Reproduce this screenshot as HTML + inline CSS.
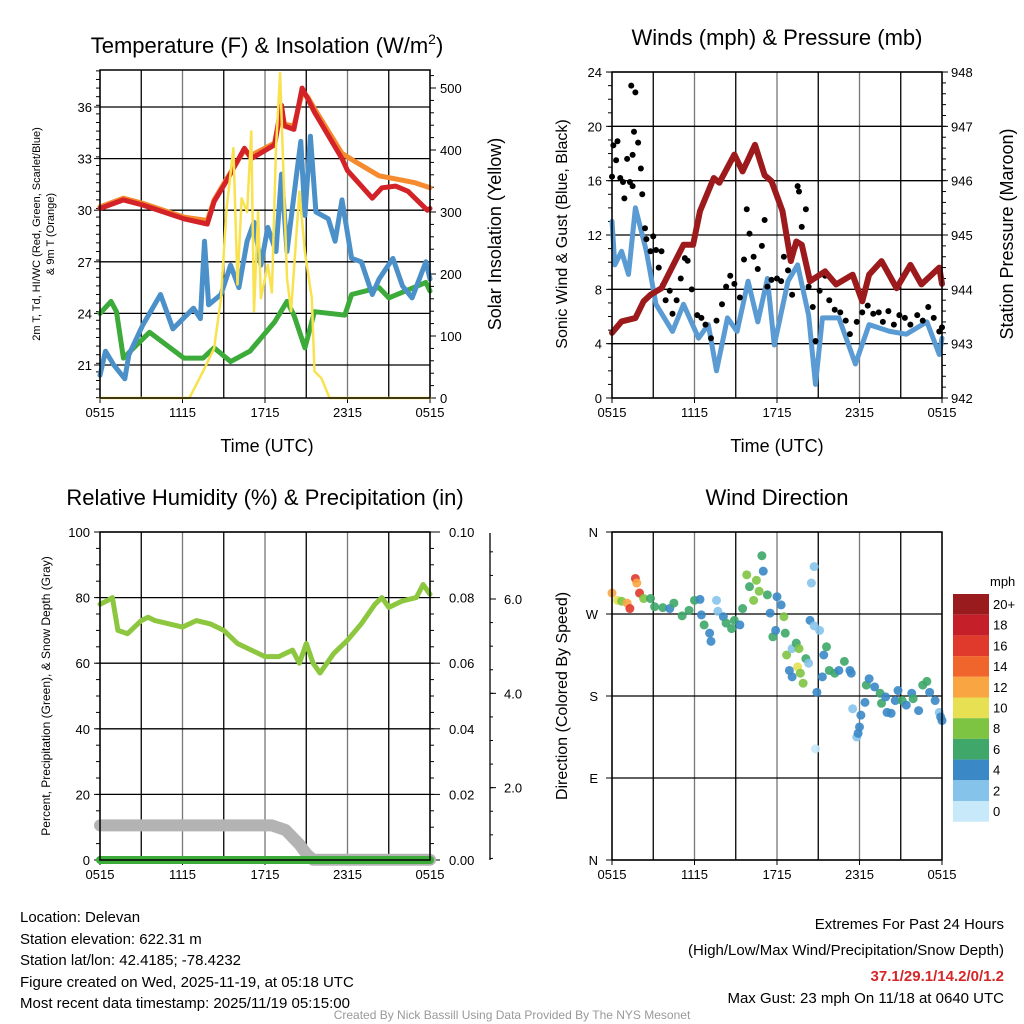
<!DOCTYPE html>
<html><head><meta charset="utf-8"><style>
body{margin:0;background:#fff}
svg{display:block;font-family:"Liberation Sans",Arial,sans-serif}
</style></head><body>
<svg id="s" width="1024" height="1024" viewBox="0 0 1024 1024">
<g id="g"></g>
<g font-size="15" fill="#000">
<text x="20" y="922">Location: Delevan</text>
<text x="20" y="944">Station elevation: 622.31 m</text>
<text x="20" y="965">Station lat/lon: 42.4185; -78.4232</text>
<text x="20" y="987">Figure created on Wed, 2025-11-19, at 05:18 UTC</text>
<text x="20" y="1008">Most recent data timestamp: 2025/11/19 05:15:00</text>
<text x="1004" y="929" text-anchor="end">Extremes For Past 24 Hours</text>
<text x="1004" y="955" text-anchor="end">(High/Low/Max Wind/Precipitation/Snow Depth)</text>
<text x="1004" y="981" text-anchor="end" fill="#d62728" font-weight="bold">37.1/29.1/14.2/0/1.2</text>
<text x="1004" y="1003" text-anchor="end">Max Gust: 23 mph On 11/18 at 0640 UTC</text>
<text x="512" y="1019" text-anchor="middle" font-size="12" fill="#999">Created By Nick Bassill Using Data Provided By The NYS Mesonet</text>
</g>
</svg>
<script>
const xTickLabels=["0515","1115","1715","2315","0515"];
const tempHours=[0,1.7,3.1,6.1,7.8,8.3,9.2,10.5,11,12.7,13.2,13.4,14.1,14.7,15.1,15.6,17.6,18,19.8,20.5,21.5,22.4,23.8,24];
const tempRed=[30.1,30.6,30.3,29.5,29.2,30.5,31.7,33.6,33,33.8,36.1,34.9,34.7,37.1,36.5,35.7,33,32.3,30.7,31.3,31.4,31.1,30,30.1];
const orangeHours=[0,1.7,3.1,6.1,7.8,8.3,9.2,10.5,11,12.7,13.2,13.4,14.1,14.7,15.1,15.6,17.6,18.6,20.3,21.6,22.9,24];
const tempOrange=[30.2,30.7,30.4,29.6,29.4,30.6,31.8,33.5,33.2,33.9,36,35,34.9,36.8,36.6,35.9,33.3,32.8,32,31.8,31.6,31.3];
const blueHours=[0,0.4,1,1.8,2.1,3.1,4.4,5.3,6.8,7.3,7.6,7.9,8.8,9.5,10.1,10.7,11.2,11.7,12.2,12.8,13.2,13.6,14.3,14.6,14.9,15.3,15.7,16.6,17.1,17.6,18.3,19,19.8,20.3,21.3,22,22.7,23.7,24];
const tempBlue=[20.4,21.8,21,20.2,21.6,23.3,25.1,23.1,24.3,23.7,28.2,24.5,25.1,26.8,25.5,28.2,29.3,26.8,29,27.6,32.1,27.6,32.1,34,29.7,34.3,29.9,29.5,28.2,30.6,27.2,27,25.1,26,27.2,25.6,24.9,27,26];
const greenHours=[0,0.8,1.2,1.7,3.6,6.1,7.5,8.3,9.5,10.9,12.7,13.6,14.1,14.9,15.6,17.8,18.3,20.3,21,23.7,24];
const tempGreen=[24,24.7,24.1,21.4,22.9,21.4,21.4,22,21.2,21.8,23.5,24.7,23.9,22,24.1,23.9,25.1,25.5,24.9,25.8,25.3];
const solarHours=[0,6.5,7.5,8.3,8.8,9.2,9.7,10,10.3,10.7,11,11.2,11.5,11.7,12.2,12.5,12.8,13.1,13.4,13.6,13.9,14.3,14.5,14.9,15.4,15.6,16.1,16.7,24];
const solar=[0,0,43,80,161,304,403,183,322,300,430,140,300,161,215,170,403,524,322,193,140,268,333,236,161,43,32,0,0];
const tempTicks=[21,24,27,30,33,36];
const solarTicks=[0,100,200,300,400,500];

const presHours=[0,0.7,1.7,2.3,2.8,3.6,5.2,5.9,6.4,7.4,7.8,8.9,9.5,10.4,11.1,11.6,12.4,13,13.4,13.8,14.4,15.5,16.3,17.5,18.2,18.7,19.6,20.7,21.7,22.5,23.8,24];
const pressure=[943.2,943.41,943.47,943.78,943.9,944.02,944.82,944.82,945.44,946.05,945.96,946.48,946.17,946.66,946.1,945.99,945.44,944.52,944.88,944.82,944.15,944.33,944.09,944.27,943.78,944.27,944.52,944.02,944.45,944.09,944.4,944.1];
const sonicHours=[0,0.2,0.7,1.2,1.7,2.5,3.2,4.4,5.2,6.3,7,7.6,8.4,9.1,9.9,10.6,11.3,11.8,12.8,13.5,14.3,14.8,15.3,16.5,17.7,18.7,20.2,21.4,22.9,23.8,24];
const sonic=[13,9.8,10.8,9.1,14,10.8,6.9,4.9,6.9,4.4,5.4,2,5.9,4.9,8.6,5.6,8.8,3.9,8.6,9.8,6.1,1,5.9,5.9,2.5,5.4,4.9,4.7,5.6,3.2,4.4];
const gustHours=[0,0.1,0.3,0.4,0.6,0.8,0.9,1.1,1.3,1.5,1.6,1.4,1.7,1.5,1.9,2.1,2.2,2.4,2.5,2.8,3,3.2,3.4,3.6,3.7,3.9,4.2,4.4,4.7,5,5.3,5.5,5.8,6.2,6.5,6.8,7.2,7.6,8,8.3,8.6,8.9,9.3,9.6,9.8,10,10.3,10.6,10.9,11.1,11.3,11.6,12,12.3,12.5,12.8,13.1,13.3,13.5,13.6,13.8,14.1,14.3,14.6,14.8,15.1,15.5,15.8,16.2,16.6,17,17.3,17.8,18.2,18.6,19,19.4,19.7,20.1,20.5,20.9,21.3,21.7,22.2,22.6,23,23.4,23.8,24];
const gust=[16.3,18.6,17.5,18.9,16.2,15.9,14.7,17.6,15.9,15.6,19.6,23,22.5,17.9,18.8,16.9,15,12.5,11.7,10.8,11.9,10.9,9.6,10.8,8.3,7.2,7.9,6.2,7.2,8.8,10.3,10.1,8,6.1,5.9,5.4,4.4,5.7,6.9,8.2,9,8.4,7.4,10.2,13.9,12.1,10.4,9.5,11.2,13.1,8.2,8.7,8.8,8.6,10.4,9.4,7.6,11.1,15.6,15.2,12.6,13.9,8.2,6.7,4.2,7.9,9,7.2,6.5,6.3,5.7,4.7,5.6,6.3,6.8,6.2,6.3,5.6,6.4,5.4,6.1,5.9,5.4,6.1,5.7,6.7,5.9,4.9,5.2];
const windTicks=[0,4,8,12,16,20,24];
const presTicks=[942,943,944,945,946,947,948];

const rhHours=[0,0.5,0.9,1.3,2,3,3.5,4,5,6,7,8,9,10,11,12,13,13.5,14,14.5,15,15.5,16,16.5,17,18,19,20,20.5,21,22,23,23.5,24];
const rh=[78,79,80,70,69,73,74,73,72,71,73,72,70,66,64,62,62,63,64,60,66,60,57,60,63,67,72,78,80,77,79,80,84,81];
const snowHours=[0,12.5,13.5,14.5,15,15.5,24];
const snow=[1.2,1.2,1.1,0.8,0.6,0.47,0.47];
const precipHours=[0,24];
const precip=[0,0];
const rhTicks=[0,20,40,60,80,100];
const precipTicks=["0.00","0.02","0.04","0.06","0.08","0.10"];
const snowTicks=["2.0","4.0","6.0"];

const dirHours=[0,0.4,0.7,1.1,1.3,1.7,1.8,2,2.3,2.8,3.1,3.7,4.2,4.5,5.1,5.6,6,6.4,6.5,6.7,7.1,7.2,7.6,7.7,8.1,8.3,8.7,8.9,9.3,9.5,9.8,10,10.3,10.5,10.7,10.9,11,11.3,11.5,11.7,11.9,12,12.3,12.5,12.6,12.7,12.9,13.1,13.1,13.4,13.5,13.6,13.7,13.9,14.1,14.3,14.4,14.5,14.7,14.7,14.8,14.9,15.1,15.3,15.4,15.6,15.8,16.2,16.5,16.9,17.3,17.4,17.5,17.8,17.9,18,18.1,18.4,18.5,18.7,19.1,19.5,19.6,19.9,20,20.3,20.6,20.8,21.1,21.4,21.8,21.9,22.3,22.6,22.9,23.1,23.5,23.8,23.9,24];
const dirDeg=[293,285,284,282,276,309,304,293,287,287,278,277,276,282,268,274,285,286,269,258,249,240,285,273,267,260,254,263,258,276,313,300,285,307,295,334,317,291,271,245,252,289,280,267,249,225,208,201,232,238,212,232,205,194,221,216,263,304,322,257,122,184,252,201,225,234,208,205,208,218,208,205,166,135,139,146,159,173,192,199,190,183,172,179,162,161,175,186,175,170,183,177,164,192,196,184,175,162,157,153];
const dirSpeed=[13,10,9,12,16,16,13,16,9,7,6,6,5,6,6,6,6,4,4,7,4,4,2,2,4,6,6,6,4,6,8,6,8,8,8,6,4,6,4,6,4,4,4,8,6,8,4,4,2,6,10,8,8,8,6,2,4,2,2,2,1,4,2,4,4,6,6,6,4,6,4,4,2,2,4,4,4,4,6,4,4,6,6,4,4,4,4,4,6,4,4,6,4,6,6,4,4,2,4,4];
const speedLabels=["20+","18","16","14","12","10","8","6","4","2","0"];
const speedColors=["#9a1b1e","#c5202a","#e03a2c","#f0652b","#f9a542","#e7e052","#7dc443","#3ea769","#3b88c6","#86c3ea","#c8e9fa"];

const NS="http://www.w3.org/2000/svg";
const root=document.getElementById('g');
function mk(tag,attrs,parent){const e=document.createElementNS(NS,tag);for(const k in attrs)e.setAttribute(k,attrs[k]);(parent||root).appendChild(e);return e;}
function txt(s,attrs,parent){const e=mk('text',attrs,parent);e.textContent=s;return e;}
function lin(d0,d1,r0,r1){return v=>r0+(v-d0)/(d1-d0)*(r1-r0);}
function path(xs,ys,fx,fy,attrs,parent){let d='';xs.forEach((h,i)=>{d+=(i?'L':'M')+fx(h).toFixed(1)+','+fy(ys[i]).toFixed(1);});return mk('path',Object.assign({d:d,fill:'none','stroke-linejoin':'round','stroke-linecap':'round'},attrs),parent);}

function frame(name,L,T,R,B){
  const g=mk('g',{});
  
  
  const fx=lin(0,24,L,R);
  for(let i=0;i<=8;i++){const x=fx(i*3);mk('line',{x1:x,y1:T,x2:x,y2:B,stroke:i%2?'#000':'#777','stroke-width':1.3},g);}
  xTickLabels.forEach((s,i)=>{const x=fx(i*6);mk('line',{x1:x,y1:B,x2:x,y2:B+5,stroke:'#000'},g);txt(s,{x:x,y:B+19,'font-size':13,'text-anchor':'middle'},g);});
  return {g,fx};
}
function hgrid(g,L,R,y){mk('line',{x1:L,y1:y,x2:R,y2:y,stroke:'#000','stroke-width':1.3},g);}
function box(g,L,T,R,B){mk('rect',{x:L,y:T,width:R-L,height:B-T,fill:'none',stroke:'#000','stroke-width':1.5},g);}
function minor(g,x,T,B,step,dir){for(let y=B;y>=T-0.1;y-=step)mk('line',{x1:x,y1:y,x2:x+dir*4,y2:y,stroke:'#000'},g);}

// Panel 1
(function(){
 const L=100,T=70,R=430,B=398;
 const {g,fx}=frame('temperature-panel',L,T,R,B);
 const fy=lin(21,36,365,107), fs=lin(0,500,398,88);
 tempTicks.forEach(v=>{hgrid(g,L,R,fy(v));mk('line',{x1:L,y1:fy(v),x2:L-6,y2:fy(v),stroke:'#000'},g);txt(v,{x:L-8,y:fy(v)+5,'font-size':13,'text-anchor':'end'},g);});
 minor(g,L-0,T,fy(21)+17.2*1.9,17.2/2,-1);
 solarTicks.forEach(v=>{mk('line',{x1:R,y1:fs(v),x2:R+6,y2:fs(v),stroke:'#000'},g);txt(v,{x:R+10,y:fs(v)+5,'font-size':13},g);});
 minor(g,R,T,B,6.2*2,1);
 const cg=mk('g',{},g);
 path(greenHours,tempGreen,fx,fy,{stroke:'#3cab3a','stroke-width':5},cg);
 path(blueHours,tempBlue,fx,fy,{stroke:'#4b90c8','stroke-width':5},cg);
 path(orangeHours,tempOrange,fx,fy,{stroke:'#f58a2e','stroke-width':5},cg);
 path(tempHours,tempRed,fx,fy,{stroke:'#d42328','stroke-width':5},cg);
 path(solarHours,solar,fx,fs,{stroke:'#f8e24f','stroke-width':2.5},cg);
 box(g,L,T,R,B);
 const t=txt('Temperature (F) & Insolation (W/m',{x:267,y:53,'font-size':22,'text-anchor':'middle'},g);
 const sp=mk('tspan',{dy:-9,'font-size':14},t);sp.textContent='2';const sp2=mk('tspan',{dy:9},t);sp2.textContent=')';
 txt('Time (UTC)',{x:267,y:452,'font-size':18,'text-anchor':'middle'},g);
 txt('Solar Insolation (Yellow)',{transform:'translate(501,234) rotate(-90)','font-size':18,'text-anchor':'middle'},g);
 txt('2m T, Td, HI/WC (Red, Green, Scarlet/Blue)',{transform:'translate(40,234) rotate(-90)','font-size':11,'text-anchor':'middle'},g);
 txt('& 9m T (Orange)',{transform:'translate(54,234) rotate(-90)','font-size':11,'text-anchor':'middle'},g);
})();

// Panel 2
(function(){
 const L=612,T=72,R=942,B=398;
 const {g,fx}=frame('wind-panel',L,T,R,B);
 const fy=lin(0,24,398,72), fp=lin(942,948,398,72);
 windTicks.forEach(v=>{hgrid(g,L,R,fy(v));mk('line',{x1:L,y1:fy(v),x2:L-6,y2:fy(v),stroke:'#000'},g);txt(v,{x:L-10,y:fy(v)+5,'font-size':13,'text-anchor':'end'},g);});
 minor(g,L,T,B,13.58,-1);
 presTicks.forEach(v=>{mk('line',{x1:R,y1:fp(v),x2:R+6,y2:fp(v),stroke:'#000'},g);txt(v,{x:R+9,y:fp(v)+5,'font-size':13},g);});
 minor(g,R,T,B,54.33/5,1);
 const cg=mk('g',{},g);
 path(sonicHours,sonic,fx,fy,{stroke:'#5a9bd3','stroke-width':5},cg);
 gustHours.forEach((h,i)=>{const c=mk('circle',{cx:fx(h),cy:fy(gust[i]),r:3,fill:'#000'},cg);});
 path(presHours,pressure,fx,fp,{stroke:'#9c1a1c','stroke-width':6},cg);
 box(g,L,T,R,B);
 txt('Winds (mph) & Pressure (mb)',{x:777,y:45,'font-size':22,'text-anchor':'middle'},g);
 txt('Time (UTC)',{x:777,y:452,'font-size':18,'text-anchor':'middle'},g);
 txt('Sonic Wind & Gust (Blue, Black)',{transform:'translate(567,234) rotate(-90)','font-size':16,'text-anchor':'middle'},g);
 txt('Station Pressure (Maroon)',{transform:'translate(1013,234) rotate(-90)','font-size':18,'text-anchor':'middle'},g);
})();

// Panel 3
(function(){
 const L=100,T=532,R=430,B=860;
 const {g,fx}=frame('humidity-panel',L,T,R,B);
 const fy=lin(0,100,860,532), fsn=lin(0,6,882,599);
 rhTicks.forEach(v=>{hgrid(g,L,R,fy(v));mk('line',{x1:L,y1:fy(v),x2:L-6,y2:fy(v),stroke:'#000'},g);txt(v,{x:L-10,y:fy(v)+5,'font-size':13,'text-anchor':'end'},g);});
 minor(g,L,T,B,16.4,-1);
 precipTicks.forEach((s,i)=>{const y=fy(i*20);mk('line',{x1:R,y1:y,x2:R+10,y2:y,stroke:'#000'},g);txt(s,{x:R+19,y:y+5,'font-size':13},g);});
 minor(g,R,T,B,16.4,1);
 mk('line',{x1:490,y1:533,x2:490,y2:860,stroke:'#000','stroke-width':1.3},g);
 snowTicks.forEach((s,i)=>{const y=fsn((i+1)*2);mk('line',{x1:490,y1:y,x2:496,y2:y,stroke:'#000'},g);txt(s,{x:504,y:y+5,'font-size':13},g);});
 for(let v=0.5;v<=7;v+=0.5){const y=fsn(v);if(y>=533&&y<=860)mk('line',{x1:490,y1:y,x2:493,y2:y,stroke:'#000'},g);}
 const cg=mk('g',{},g);
 path(snowHours,snow,fx,fsn,{stroke:'#b3b3b3','stroke-width':12},cg);
 path(rhHours,rh,fx,fy,{stroke:'#8dc63f','stroke-width':5},cg);
 path(precipHours,precip,fx,v=>fy(v*1000),{stroke:'#3cab3a','stroke-width':8},cg);
 box(g,L,T,R,B);
 txt('Relative Humidity (%) & Precipitation (in)',{x:265,y:505,'font-size':22,'text-anchor':'middle'},g);
 txt('Percent, Precipitation (Green), & Snow Depth (Gray)',{transform:'translate(50,696) rotate(-90)','font-size':12,'text-anchor':'middle'},g);
})();

// Panel 4
(function(){
 const L=612,T=532,R=942,B=860;
 const {g,fx}=frame('wind-direction-panel',L,T,R,B);
 const fy=lin(0,360,860,532);
 ['N','E','S','W','N'].forEach((s,i)=>{const y=fy(i*90);hgrid(g,L,R,y);mk('line',{x1:L,y1:y,x2:L-6,y2:y,stroke:'#000'},g);txt(s,{x:L-14,y:y+5,'font-size':13,'text-anchor':'end'},g);});
 const cg=mk('g',{},g);
 dirHours.forEach((h,i)=>{const sp=dirSpeed[i];const bin=Math.min(10,Math.floor(sp/2));const c=mk('circle',{cx:fx(h),cy:fy(dirDeg[i]),r:4.5,fill:speedColors[10-bin],'fill-opacity':0.9},cg);});
 box(g,L,T,R,B);
 txt('Wind Direction',{x:777,y:505,'font-size':22,'text-anchor':'middle'},g);
 txt('Direction (Colored By Speed)',{transform:'translate(567,696) rotate(-90)','font-size':16,'text-anchor':'middle'},g);
 const lg=mk('g',{},g);
 txt('mph',{x:990,y:586,'font-size':13},lg);
 speedLabels.forEach((s,i)=>{const y=594+i*20.7;mk('rect',{x:953,y:y,width:36,height:20.7,fill:speedColors[i]},lg);txt(s,{x:993,y:y+15,'font-size':13},lg);});
})();
</script>
</body></html>
